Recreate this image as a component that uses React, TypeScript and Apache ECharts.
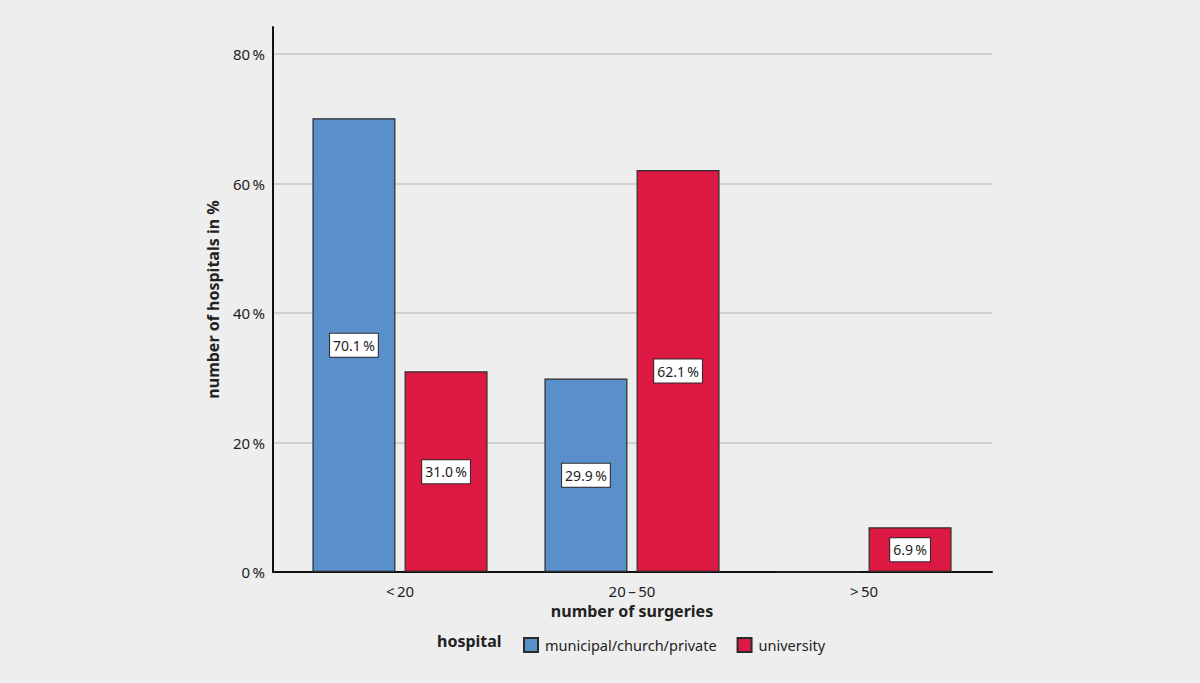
import React, { useEffect, useRef } from "react";
import * as echarts from "echarts";

const categories = ["<\u200920", "20\u2009–\u200950", ">\u200950"];
const municipal = [70.1, 29.9, 0];
const university = [31.0, 62.1, 6.9];
const yTicks = [0, 20, 40, 60, 80];
const seriesNames = ["municipal/church/private", "university"];

const FONT = "'Noto Sans', 'Open Sans', sans-serif";
const BLUE = "#5a8fcb";
const RED = "#dc1942";
const BORDER = "#2b2b2b";

function makeData(values: number[]) {
  return values.map((v) =>
    v === 0 ? { value: v, label: { show: false } } : { value: v }
  );
}

export default function App() {
  const ref = useRef<HTMLDivElement>(null);
  useEffect(() => {
    if (!ref.current) return;
    const chart = echarts.init(ref.current, undefined, { renderer: "svg" });
    const yMax = 84.2;
    const barLabel = {
      show: true,
      position: "inside" as const,
      formatter: (p: any) => `${Number(p.value).toFixed(1)}\u2009%`,
      backgroundColor: "#ffffff",
      borderColor: BORDER,
      borderWidth: 1,
      padding: [5, 3, 4, 3],
      color: "#222",
      fontFamily: FONT,
      fontSize: 14,
    };
    chart.setOption({
      animation: false,
      backgroundColor: "#eeeeee",
      grid: [
        { left: 273, right: 208, top: 27, bottom: 111 },
        { left: 284, right: 220, top: 27, bottom: 111 },
      ],
      xAxis: [
        {
          gridIndex: 0,
          type: "value",
          min: 0,
          max: 1,
          axisLabel: { show: false },
          axisTick: { show: false },
          splitLine: { show: false },
          axisLine: { show: true, lineStyle: { color: "#111", width: 2 } },
        },
        {
          gridIndex: 1,
          type: "category",
          data: categories,
          axisLine: { show: false },
          axisTick: { show: false },
          axisLabel: {
            color: "#222",
            fontFamily: FONT,
            fontSize: 15,
            margin: 11,
          },
          name: "number of surgeries",
          nameLocation: "middle",
          nameGap: 27,
          nameTextStyle: {
            color: "#222",
            fontFamily: FONT,
            fontSize: 16,
            fontWeight: "bold",
          },
        },
      ],
      yAxis: [
        {
          gridIndex: 0,
          type: "value",
          min: 0,
          max: yMax,
          interval: 20,
          axisLine: { show: true, lineStyle: { color: "#111", width: 2 } },
          axisTick: { show: false },
          axisLabel: {
            showMaxLabel: false,
            color: "#222",
            fontFamily: FONT,
            fontSize: 15,
            margin: 8,
            formatter: (v: number) =>
              yTicks.includes(v) ? `${v}\u2009%` : "",
          },
          splitLine: {
            show: true,
            showMaxLine: false,
            lineStyle: { color: "#c6c6c6", width: 1.5 },
          },
          name: "number of hospitals in %",
          nameLocation: "middle",
          nameGap: 52,
          nameTextStyle: {
            color: "#222",
            fontFamily: FONT,
            fontSize: 16,
            fontWeight: "bold",
          },
        },
        {
          gridIndex: 1,
          type: "value",
          min: 0,
          max: yMax,
          show: false,
          splitLine: { show: false },
        },
      ],
      legend: {
        data: seriesNames,
        left: 518,
        top: 632,
        icon: "rect",
        itemWidth: 14,
        itemHeight: 14,
        itemGap: 20,
        textStyle: {
          color: "#222",
          fontFamily: FONT,
          fontSize: 14.5,
          padding: [0, 0, 0, 2],
        },
      },
      graphic: [
        {
          type: "text",
          left: 437,
          top: 633,
          style: {
            text: "hospital",
            fill: "#222",
            font: `bold 16px ${FONT}`,
          },
        },
      ],
      series: [
        {
          name: seriesNames[0],
          type: "bar",
          xAxisIndex: 1,
          yAxisIndex: 1,
          data: makeData(municipal),
          barWidth: 83,
          barGap: "11%",
          itemStyle: { color: BLUE, borderColor: BORDER, borderWidth: 1.2 },
          label: barLabel,
        },
        {
          name: seriesNames[1],
          type: "bar",
          xAxisIndex: 1,
          yAxisIndex: 1,
          data: makeData(university),
          barWidth: 83,
          barGap: "11%",
          itemStyle: { color: RED, borderColor: BORDER, borderWidth: 1.2 },
          label: barLabel,
        },
      ],
    });
    return () => chart.dispose();
  }, []);
  return (
    <div
      ref={ref}
      style={{ width: 1200, height: 683, position: "absolute", left: 0, top: 0 }}
    />
  );
}
